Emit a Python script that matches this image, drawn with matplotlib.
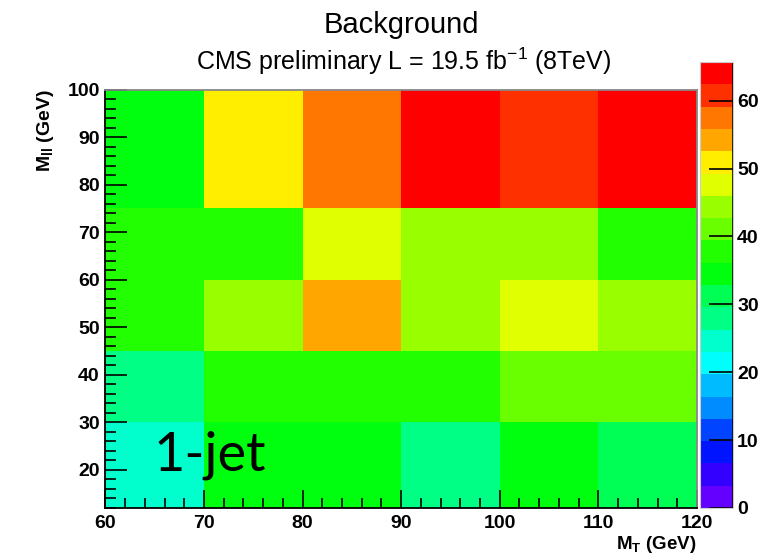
import numpy as np
import matplotlib
matplotlib.use("Agg")
import matplotlib.pyplot as plt
from matplotlib.colors import ListedColormap, BoundaryNorm
from matplotlib.ticker import MultipleLocator

plt.rcParams['font.family'] = ['Liberation Sans', 'DejaVu Sans']
plt.rcParams['mathtext.fontset'] = 'custom'
plt.rcParams['mathtext.rm'] = 'Liberation Sans'
plt.rcParams['mathtext.bf'] = 'Liberation Sans:bold'
plt.rcParams['mathtext.it'] = 'Liberation Sans:italic'

# ---- data ----
x_edges = [60, 70, 80, 90, 100, 110, 120]          # M_T (GeV)
y_edges = [12, 30, 45, 60, 75, 100]                # M_ll (GeV)
# rows from bottom (12-30) to top (75-100), columns 60-70 ... 110-120
row_12_30 = [24.6, 34.5, 34.5, 27.9, 34.5, 31.2]
row_30_45 = [27.9, 37.8, 37.8, 37.8, 41.1, 41.1]
row_45_60 = [37.8, 44.3, 54.2, 44.3, 47.6, 44.3]
row_60_75 = [37.8, 37.8, 47.6, 44.3, 44.3, 37.8]
row_75_100 = [34.5, 50.9, 57.5, 64.1, 60.8, 64.1]
z_min, z_max = 0.0, 65.7
n_levels = 20
cbar_ticks = [0, 10, 20, 30, 40, 50, 60]

values = np.array([row_12_30, row_30_45, row_45_60, row_60_75, row_75_100])

# ---- ROOT "pretty" palette (HLS hue scan), sampled with 20 contours ----
def _hls1(rn1, rn2, h):
    if h > 360: h -= 360
    if h < 0: h += 360
    if h < 60: return rn1 + (rn2 - rn1) * h / 60
    if h < 180: return rn2
    if h < 240: return rn1 + (rn2 - rn1) * (240 - h) / 60
    return rn1

def _hls(h, l=0.5, s=1.0):
    rm2 = l + s - l * s if l > 0.5 else l * (1 + s)
    rm1 = 2 * l - rm2
    return (_hls1(rm1, rm2, h + 120), _hls1(rm1, rm2, h), _hls1(rm1, rm2, h - 120))

pretty = [_hls(280 - (i + 1) * 280 / 50) for i in range(50)]
cols = [pretty[int((j + 0.99) * 50 / n_levels)] for j in range(n_levels)]
cmap = ListedColormap(cols)
bounds = np.linspace(z_min, z_max, n_levels + 1)
norm = BoundaryNorm(bounds, cmap.N)

fig = plt.figure(figsize=(7.82, 5.56), dpi=100)
ax = fig.add_axes([0.1347, 0.0869, 0.8913 - 0.1347, 0.839 - 0.0869])
mesh = ax.pcolormesh(x_edges, y_edges, values, cmap=cmap, norm=norm)
ax.set_xlim(60, 120)
ax.set_ylim(12, 100)

ax.xaxis.set_major_locator(MultipleLocator(10))
ax.xaxis.set_minor_locator(MultipleLocator(2))
ax.yaxis.set_major_locator(MultipleLocator(10))
ax.yaxis.set_minor_locator(MultipleLocator(2))
ax.tick_params(axis='x', which='major', direction='in', length=13, width=1.2, labelsize=14, pad=5)
ax.tick_params(axis='x', which='minor', direction='in', length=7, width=1.2)
ax.tick_params(axis='y', which='major', direction='in', length=16, width=1.2, labelsize=14, pad=4)
ax.tick_params(axis='y', which='minor', direction='in', length=8, width=1.2)
for lab in ax.get_xticklabels() + ax.get_yticklabels():
    lab.set_fontweight('bold')
for s in ax.spines.values():
    s.set_linewidth(1.3)
ax.spines['top'].set_color('#888888')
ax.spines['right'].set_color('#888888')

ax.text(64.9, 19.8, '1-jet', fontsize=39, family=['Lato', 'DejaVu Sans'],
        ha='left', va='baseline', color='black')

# axis titles
fig.text(697 / 782, 1 - 549 / 556, r'M$_{\mathbf{T}}$ (GeV)', ha='right', va='baseline',
         fontsize=13.5, fontweight='bold')
fig.text(45 / 782, 1 - 89 / 556, r'M$_{\mathbf{ll}}$ (GeV)', ha='center', va='top',
         rotation=90, fontsize=14, fontweight='bold')

# titles
fig.text(401 / 782, 1 - 33 / 556, 'Background', ha='center', va='baseline', fontsize=21)
fig.text(404 / 782, 1 - 70 / 556, r'CMS preliminary L = 19.5 fb$^{\mathrm{-1}}$ (8TeV)',
         ha='center', va='baseline', fontsize=18)

# colour bar
cax = fig.add_axes([700 / 782, 1 - 508 / 556, 33 / 782, (508 - 62) / 556])
cb = fig.colorbar(mesh, cax=cax, ticks=cbar_ticks, spacing='proportional')
cb.outline.set_linewidth(0.8)
cb.outline.set_edgecolor('#cccccc')
cax.tick_params(axis='y', which='major', direction='in', length=17, width=1.2,
                labelsize=14, pad=3, right=True, left=False)
cax.minorticks_off()
for lab in cax.get_yticklabels():
    lab.set_fontweight('bold')
cax.axvline(1, color='black', lw=1.2)

fig.savefig('out.png', dpi=100)
